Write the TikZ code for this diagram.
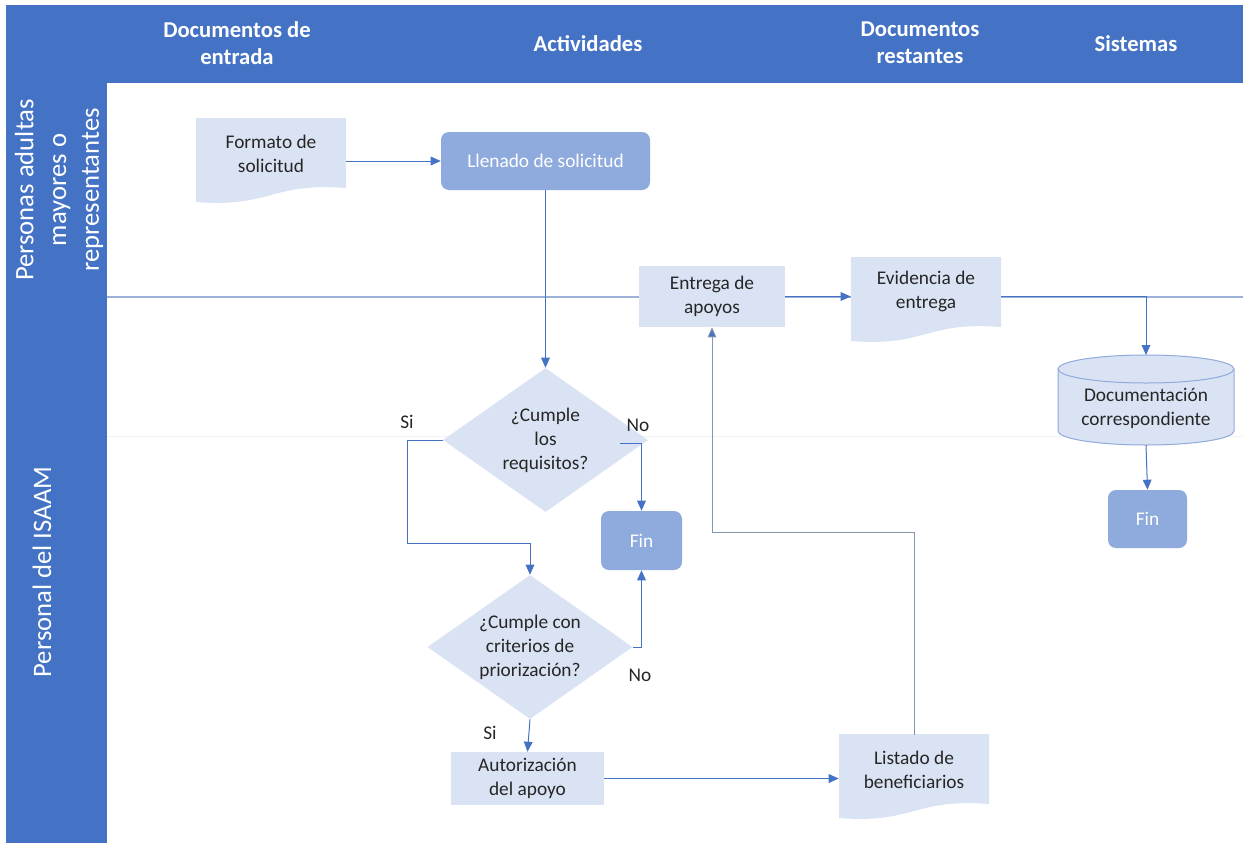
\documentclass[tikz,border=0pt]{standalone}
\usepackage{fontspec}
\setmainfont{Carlito}
\usetikzlibrary{shapes.geometric,arrows.meta,calc}
\definecolor{hdr}{HTML}{4472C4}
\definecolor{lightf}{HTML}{DAE3F3}
\definecolor{medf}{HTML}{8FAADC}
\definecolor{conn}{HTML}{4472C4}
\definecolor{conn2}{HTML}{8497B0}
\definecolor{lane}{HTML}{9DB0D6}
\definecolor{txtc}{HTML}{262626}
\newcommand\docpath[2]{\fill[lightf] (#1,#2) -- ({#1+150},#2) -- ({#1+150},{#2+70}) .. controls ({#1+75},{#2+64}) and ({#1+75},{#2+90}) .. (#1,{#2+84}) -- cycle;}
\begin{document}
\begin{tikzpicture}[x=0.75pt,y=-0.75pt,
  every node/.style={font=\fontsize{14.5}{18}\selectfont, inner sep=0pt, text=txtc},
  txt/.style={align=center},
  lightbox/.style={rectangle, fill=lightf, align=center},
  medbox/.style={rectangle, rounded corners=6pt, fill=medf, text=white, align=center},
  dec/.style={diamond, fill=lightf, aspect=1.42, minimum width=153.75pt, minimum height=108pt, align=center},
  arr/.style={draw=conn, line width=0.75pt, -{Triangle[length=7.5pt,width=6.5pt]}},
  arrgray/.style={draw=conn2, line width=0.75pt, -{Triangle[length=7.5pt,width=6.5pt,fill=conn]}},
  hdrtxt/.style={text=white, font=\fontsize{17}{20.25}\selectfont\bfseries, align=center},
  lanetxt/.style={text=white, font=\fontsize{20}{24.5}\selectfont, align=center, rotate=90}]
\useasboundingbox (0,0) rectangle (1243,843);
\fill[white] (0,0) rectangle (1243,843);
\fill[hdr] (6,5) rectangle (1243,83);
\fill[hdr] (6,83) rectangle (107,843);
\draw[lane, line width=0.9pt] (107,297) -- (1243,297);
\draw[black!5, line width=0.75pt] (107,436) -- (1243,436);

% headers
\node[hdrtxt] (h1) at (237,43) {Documentos de\\entrada};
\node[hdrtxt] (h2) at (588,44) {Actividades};
\node[hdrtxt] (h3) at (920,43) {Documentos\\restantes};
\node[hdrtxt] (h4) at (1136,44) {Sistemas};
\node[lanetxt] (l1) at (59,190) {Personas adultas\\mayores o\\representantes};
\node[lanetxt] (l2) at (42,572) {Personal del ISAAM};

% documents
\docpath{196}{118}
\node[txt, minimum width=112.5pt, minimum height=52.5pt] (formato) at (271,154) {Formato de\\solicitud};
\docpath{839}{734}
\node[txt, minimum width=112.5pt, minimum height=52.5pt] (listado) at (914,770) {Listado de\\beneficiarios};
\docpath{851}{257}
\node[txt, minimum width=112.5pt, minimum height=52.5pt] (evid) at (926,291) {Evidencia de\\entrega};

% boxes
\node[medbox, minimum width=156.75pt, minimum height=43.5pt] (llenado) at (545.5,161) {Llenado de solicitud};
\node[dec] (d1) at (545.5,440) {¿Cumple\\los\\requisitos?};
\node[medbox, minimum width=60.75pt, minimum height=44.25pt] (fin1) at (641.5,540.5) {Fin};
\node[dec] (d2) at (530,647) {¿Cumple con\\criterios de\\priorización?};
\node[lightbox, minimum width=114.75pt, minimum height=39.75pt] (autor) at (527.5,778.5) {Autorización\\del apoyo};
\node[lightbox, minimum width=109.5pt, minimum height=45.75pt] (entrega) at (712,296.5) {Entrega de\\apoyos};
\node[medbox, minimum width=59.25pt, minimum height=43.5pt] (fin2) at (1147.5,519) {Fin};

% cylinder
\fill[lightf] (1058,369) rectangle (1234,431);
\fill[lightf] (1146,431) ellipse [x radius=88, y radius=14];
\draw[medf, line width=0.75pt] (1058,369) -- (1058,431) arc[start angle=180, end angle=0, x radius=88, y radius=14] -- (1234,369);
\draw[medf, fill=lightf, line width=0.75pt] (1146,369) ellipse [x radius=88, y radius=14];
\node[txt] (cyl) at (1146,408) {Documentación\\correspondiente};
\coordinate (cyltop) at (1146,355);
\coordinate (cylbot) at (1146,445);

% connectors
\draw[arr] (llenado.west -| formato.east) -- (llenado.west);
\draw[arr] (llenado.south) -- (d1.north);
\coordinate (si1) at (407,543);
\draw[arr] (d1.west) -| (si1) -| (d2.north);
\draw[arr] ($(d1.east)+(-28,3)$) -| (fin1.north);
\draw[arr] (d2.east) -| (fin1.south);
\draw[arr] (d2.south) -- (autor.north);
\draw[arr] (autor.east) -- (autor.east -| listado.west);
\coordinate (back) at (0,532);
\draw[arrgray] (listado.north) -- (listado.north |- back) -| (entrega.south);
\draw[arr] (entrega.east) -- (entrega.east -| evid.west);
\draw[arr] (entrega.east -| evid.east) -| (cyltop);
\draw[arr] (cylbot) -- (fin2.north);

% labels
\node (lsi1) at (407,422) {Si};
\node (lno1) at (638,425) {No};
\node (lno2) at (640,675) {No};
\node (lsi2) at (490,733) {Si};
\end{tikzpicture}
\end{document}
